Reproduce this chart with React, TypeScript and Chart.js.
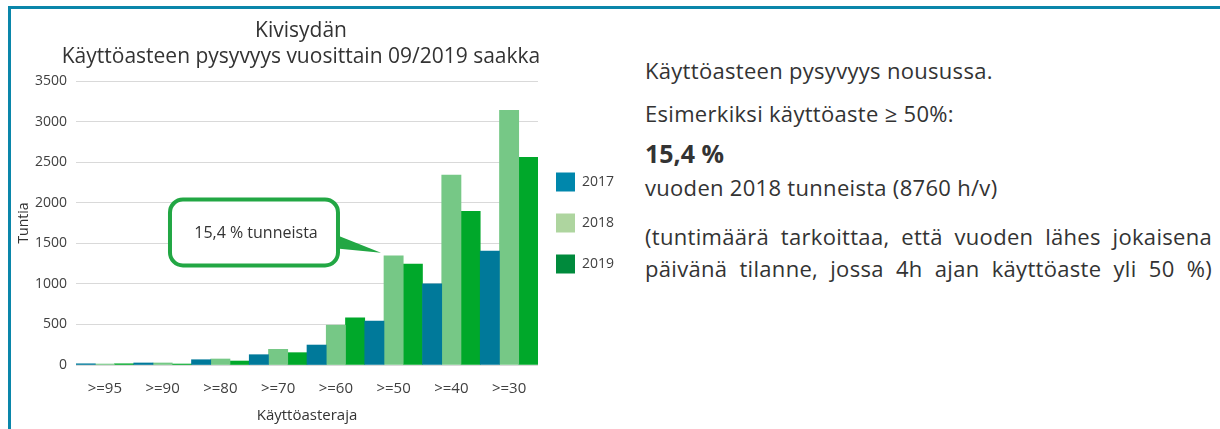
import React, { useEffect, useRef } from 'react';
import { Chart, registerables } from 'chart.js';

Chart.register(...registerables);

const categories = ['>=95', '>=90', '>=80', '>=70', '>=60', '>=50', '>=40', '>=30'];
const seriesNames = ['2017', '2018', '2019'];
const values2017 = [15, 25, 65, 127, 246, 541, 1000, 1405];
const values2018 = [12, 25, 74, 193, 491, 1345, 2340, 3140];
const values2019 = [15, 12, 49, 152, 581, 1245, 1895, 2560];
const barColors = ['#00799a', '#76c886', '#00a82a'];
const legendColors = ['#0087ac', '#aed59f', '#008a3c'];
const yMin = 0;
const yMax = 3500;
const yStep = 500;
const titleLines = ['Kivisydän', 'Käyttöasteen pysyvyys vuosittain 09/2019 saakka'];
const yTitle = 'Tuntia';
const xTitle = 'Käyttöasteraja';
const calloutText = '15,4 % tunneista';
const calloutSeries = 1;
const calloutCategory = 5;

const FONT = "'Open Sans', sans-serif";

const legendShift = {
  id: 'legendShift',
  afterLayout(chart: any) {
    if (chart.legend) {
      chart.legend.left -= 4;
      chart.legend.right -= 4;
    }
  },
};

const calloutPlugin = {
  id: 'callout',
  afterDatasetsDraw(chart: any) {
    const meta = chart.getDatasetMeta(calloutSeries);
    const bar = meta.data[calloutCategory];
    if (!bar) return;
    const { x, y, width } = bar.getProps(['x', 'y', 'width'], true);
    const tipX = x - width / 2 - 3;
    const tipY = y - 3;
    const right = tipX - 43;
    const left = right - 168;
    const top = tipY - 53.4;
    const bottom = top + 66;
    const green = '#22a744';
    const ctx = chart.ctx;
    ctx.save();
    ctx.beginPath();
    ctx.roundRect(left, top, right - left, bottom - top, 13);
    ctx.fillStyle = '#ffffff';
    ctx.fill();
    ctx.lineWidth = 4;
    ctx.strokeStyle = green;
    ctx.stroke();
    ctx.beginPath();
    ctx.moveTo(right - 1, tipY - 17.7);
    ctx.lineTo(tipX, tipY);
    ctx.lineTo(right - 1, tipY - 4.4);
    ctx.closePath();
    ctx.fillStyle = green;
    ctx.fill();
    ctx.fillStyle = '#333333';
    ctx.font = `16px ${FONT}`;
    ctx.textAlign = 'center';
    ctx.textBaseline = 'middle';
    ctx.fillText(calloutText, (left + right) / 2 + 2, (top + bottom) / 2 + 1);
    ctx.restore();
  },
};

function ChartCanvas() {
  const ref = useRef<HTMLCanvasElement>(null);
  useEffect(() => {
    if (!ref.current) return;
    const data = [values2017, values2018, values2019];
    const chart = new Chart(ref.current, {
      type: 'bar',
      data: {
        labels: categories,
        datasets: seriesNames.map((name, i) => ({
          label: name,
          data: data[i],
          backgroundColor: barColors[i],
          borderWidth: 0,
          barPercentage: 1,
          categoryPercentage: 1,
        })),
      },
      options: {
        responsive: false,
        animation: false,
        layout: { padding: 0 },
        plugins: {
          title: {
            display: true,
            text: titleLines,
            color: '#333333',
            font: { family: FONT, size: 21, weight: 'normal', lineHeight: '26px' },
            padding: { top: 18.5, bottom: 10.5 },
          },
          legend: {
            position: 'right',
            fullSize: false,
            labels: {
              boxWidth: 19,
              boxHeight: 19,
              padding: 22,
              color: '#404040',
              font: { family: FONT, size: 14 },
              generateLabels: (c: any) => {
                const items = (Chart as any).defaults.plugins.legend.labels.generateLabels(c);
                items.forEach((it: any, i: number) => {
                  it.fillStyle = legendColors[i];
                  it.strokeStyle = legendColors[i];
                  it.lineWidth = 0;
                });
                return items;
              },
            },
          },
          tooltip: { enabled: false },
        },
        scales: {
          x: {
            grid: { display: false, drawTicks: false },
            border: { display: false },
            ticks: { color: '#404040', font: { family: FONT, size: 15 }, padding: 15 },
            title: {
              display: true,
              text: xTitle,
              color: '#333333',
              font: { family: FONT, size: 15 },
              padding: { top: 4, bottom: 4.6 },
            },
            afterFit: (scale: any) => {
              scale.height = 64;
            },
          },
          y: {
            min: yMin,
            max: yMax,
            ticks: {
              stepSize: yStep,
              color: '#404040',
              font: { family: FONT, size: 14 },
              padding: 9,
              callback: (v: any) => String(v),
            },
            grid: { color: '#d9d9d9', drawTicks: false, lineWidth: 1 },
            border: { display: false },
            title: {
              display: true,
              text: yTitle,
              color: '#333333',
              font: { family: FONT, size: 14 },
              padding: { top: 42, bottom: 2 },
            },
            afterFit: (scale: any) => {
              scale.width = 102;
            },
          },
        },
      },
      plugins: [legendShift, calloutPlugin],
    });
    return () => chart.destroy();
  }, []);
  return (
    <canvas
      ref={ref}
      width={654}
      height={429}
      style={{ position: 'absolute', left: -26, top: 0, width: 654, height: 429 }}
    />
  );
}

const textStyle: React.CSSProperties = {
  position: 'absolute',
  left: 645,
  width: 567,
  fontFamily: FONT,
  fontSize: 22,
  letterSpacing: '0.3px',
  lineHeight: '32px',
  color: '#333333',
  whiteSpace: 'nowrap',
};

const justified: React.CSSProperties = {
  ...textStyle,
  whiteSpace: 'normal',
  textAlign: 'justify',
  textAlignLast: 'justify' as any,
};

export default function App() {
  return (
    <div
      style={{
        position: 'fixed',
        left: 0,
        top: 0,
        width: 1220,
        height: 429,
        overflow: 'hidden',
        background: '#ffffff',
      }}
    >
      <ChartCanvas />
      <div style={{ ...textStyle, top: 54 }}>Käyttöasteen pysyvyys nousussa.</div>
      <div style={{ ...textStyle, top: 97 }}>Esimerkiksi käyttöaste ≥ 50%:</div>
      <div style={{ ...textStyle, top: 137, fontSize: 25, fontWeight: 700, letterSpacing: 0 }}>15,4 %</div>
      <div style={{ ...textStyle, top: 171 }}>vuoden 2018 tunneista (8760 h/v)</div>
      <div style={{ ...justified, top: 220 }}>(tuntimäärä tarkoittaa, että vuoden lähes jokaisena</div>
      <div style={{ ...justified, top: 252 }}>päivänä tilanne, jossa 4h ajan käyttöaste yli 50 %)</div>
      <div
        style={{
          position: 'absolute',
          left: 8,
          top: 6,
          width: 1300,
          height: 500,
          borderLeft: '3px solid #0a86aa',
          borderTop: '3px solid #0a86aa',
          pointerEvents: 'none',
        }}
      />
    </div>
  );
}
